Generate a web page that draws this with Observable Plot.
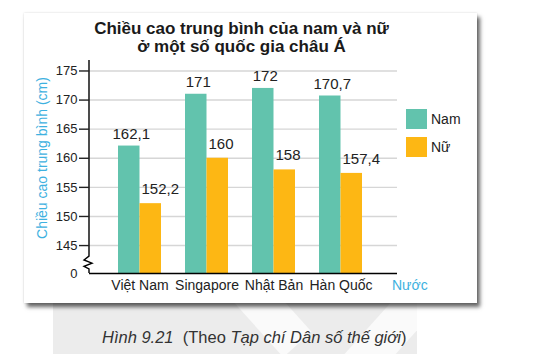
<!DOCTYPE html>
<html><head><meta charset="utf-8">
<script src="https://cdn.jsdelivr.net/npm/d3@7"></script>
<script src="https://cdn.jsdelivr.net/npm/@observablehq/plot@0.6"></script>
<style>
html,body{margin:0;padding:0;background:#fff;}
body{width:538px;height:354px;overflow:hidden;position:relative;font-family:"Liberation Sans",Arial,sans-serif;}
#wm{position:absolute;left:53px;top:288px;width:364px;height:66px;background:#ececec;overflow:hidden;}
#wm .s1{position:absolute;left:150px;top:-20px;width:38px;height:120px;background:#fafafa;transform:rotate(-42deg);transform-origin:0 0;}
#wm .s2{position:absolute;left:360px;top:-10px;width:38px;height:120px;background:#fafafa;transform:rotate(42deg);transform-origin:0 0;}
#card{position:absolute;left:24px;top:13px;width:453px;height:290px;background:#fff;box-shadow:3px 4px 4px rgba(0,0,0,.6),0 0 2px rgba(0,0,0,.15);}
#title{position:absolute;left:0;width:483px;top:20px;text-align:center;font-weight:bold;font-size:17px;line-height:18px;color:#1a1a1a;}
#chart{position:absolute;left:0;top:0;}
#ytitle{position:absolute;left:42px;top:157.5px;transform:translate(-50%,-50%) rotate(-90deg);white-space:nowrap;font-size:14px;color:#3eb1e0;}
.sw{position:absolute;left:406px;width:21px;height:20px;}
.lt{position:absolute;left:431px;font-size:14px;line-height:16px;color:#222;}
#xname{position:absolute;left:392px;top:277px;font-size:14px;line-height:16px;color:#3eb1e0;}
#caption{position:absolute;left:102px;top:328px;font-size:16.5px;line-height:18px;color:#333;white-space:pre;}
</style></head>
<body>
<div id="wm"><div class="s1"></div><div class="s2"></div></div>
<div id="card"></div>
<div id="title">Chiều cao trung bình của nam và nữ<br>ở một số quốc gia châu Á</div>
<div id="chart"></div>
<div id="ytitle">Chiều cao trung bình (cm)</div>
<div id="legend"></div>
<div id="xname">Nước</div>
<div id="caption"><i>Hình 9.21</i>  (Theo <i>Tạp chí Dân số thế giới</i>)</div>
<script>
const countries = ["Việt Nam", "Singapore", "Nhật Bản", "Hàn Quốc"];
const nam = [162.1, 171, 172, 170.7];
const nu = [152.2, 160, 158, 157.4];
const yTicks = [145, 150, 155, 160, 165, 170, 175];
const series = ["Nam", "Nữ"];
const colors = ["#62c3ad", "#fdb714"];

const BASE = 140.2;           // value drawn at the broken baseline (labelled "0")
const BREAK_HI = 143.1, BREAK_LO = 140.9;
const data = countries.map((c, i) => ({country: c, nam: nam[i], nu: nu[i]}));
const fmt = v => String(v).replace(".", ",");

const axisLine = (index, scales, values, dims) => {
  const x0 = dims.marginLeft;
  const top = dims.marginTop, bot = dims.height - dims.marginBottom;
  const a = scales.y(BREAK_HI), b = scales.y(BREAK_LO), h = b - a;
  const p = document.createElementNS("http://www.w3.org/2000/svg", "path");
  p.setAttribute("d", `M${x0},${top}V${a}L${x0-5},${a+h*0.3}L${x0+3},${a+h*0.55}L${x0-5},${a+h*0.8}L${x0},${b}V${bot}`);
  p.setAttribute("fill", "none");
  p.setAttribute("stroke", "#000");
  p.setAttribute("stroke-width", "1.4");
  return p;
};

const chart = Plot.plot({
  width: 538, height: 300,
  marginLeft: 89, marginRight: 141, marginTop: 60, marginBottom: 27,
  style: {background: "transparent", fontFamily: "'Liberation Sans', Arial, sans-serif", color: "#222"},
  x: {domain: countries, paddingInner: 0.3646, paddingOuter: 0.458, align: 0.4516},
  y: {domain: [BASE, 176.8]},
  marks: [
    Plot.ruleY(yTicks, {stroke: "#d6d6d6", strokeWidth: 1.4}),
    Plot.barY(data, {x: "country", y1: BASE, y2: "nam", fill: colors[0], insetRight: 21.5}),
    Plot.barY(data, {x: "country", y1: BASE, y2: "nu", fill: colors[1], insetLeft: 21.5}),
    Plot.ruleY([BASE], {stroke: "#000", strokeWidth: 1.4}),
    axisLine,
    Plot.axisY({ticks: yTicks, tickSize: 10, tickPadding: 2, fontSize: 13, strokeWidth: 1.4, label: null}),
    Plot.axisY({ticks: [BASE], tickSize: 0, tickPadding: 12, fontSize: 13, tickFormat: () => "0", label: null}),
    Plot.axisX({tickSize: 0, tickPadding: 7, fontSize: 14, label: null}),
    Plot.text(data, {x: "country", y: "nam", text: d => fmt(d.nam), dx: -8.75, dy: -12, fontSize: 15, fill: "#222"}),
    Plot.text(data, {x: "country", y: "nu", text: d => fmt(d.nu), textAnchor: "start", dx: 1.5, dy: -14.5, fontSize: 15, fill: "#222"})
  ]
});
document.getElementById("chart").appendChild(chart);

const legend = document.getElementById("legend");
series.forEach((s, i) => {
  const sw = document.createElement("div");
  sw.className = "sw"; sw.style.top = (109 + i * 28) + "px"; sw.style.background = colors[i];
  const t = document.createElement("div");
  t.className = "lt"; t.style.top = (111 + i * 28) + "px"; t.textContent = s;
  legend.appendChild(sw); legend.appendChild(t);
});
</script>
</body></html>
